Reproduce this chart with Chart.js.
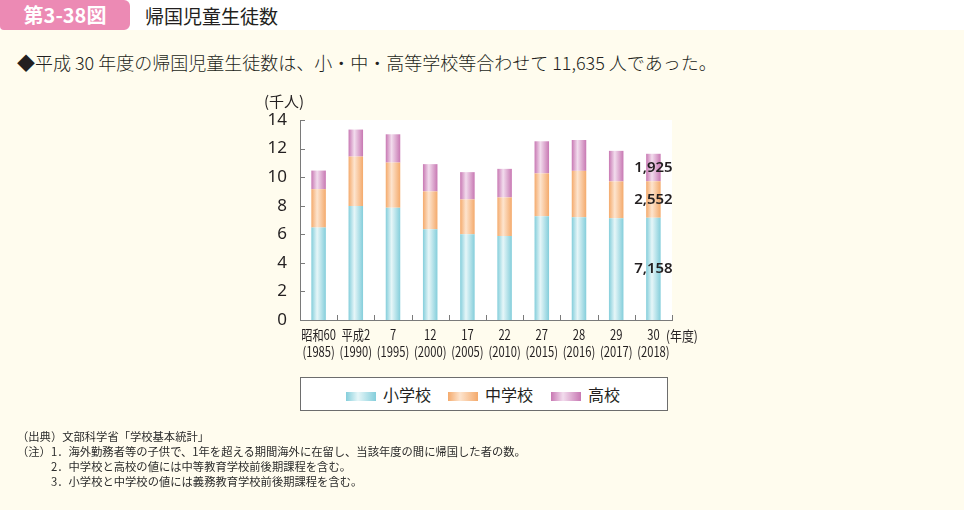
<!DOCTYPE html>
<html lang="ja">
<head>
<meta charset="utf-8">
<script src="https://cdn.jsdelivr.net/npm/chart.js@4.4.0/dist/chart.umd.min.js"></script>
<style>
body{margin:0;width:964px;height:510px;background:#fffcee;position:relative;overflow:hidden;font-family:"Noto Sans CJK JP",sans-serif;color:#231f20}
#head{position:absolute;left:0;top:0;width:964px;height:30px;background:#fff}
#badge{position:absolute;left:0;top:0;width:130px;height:30px;background:#ec8ab4;border-radius:0 6px 6px 4px;color:#fff;font-weight:bold;font-size:20px;line-height:30px;text-align:center}
#title{position:absolute;left:145px;top:0;line-height:31px;font-size:19px;font-weight:400}
#lead{position:absolute;left:17px;top:49px;font-size:18px;line-height:26px;white-space:nowrap;font-weight:300}
.t{position:absolute;white-space:nowrap}
#chart{position:absolute;left:0;top:0}
#legend{position:absolute;left:300px;top:377px;width:366px;height:32px;border:1px solid #6d6d6d;background:#fff}
.sw{position:absolute;top:14px;width:30px;height:9px}
.lt{position:absolute;top:4px;font-size:16px;line-height:24px}
.note{position:absolute;font-size:11.3px;line-height:15px;white-space:nowrap;color:#2b2b2b}
</style>
</head>
<body>
<div id="head"></div>
<div id="badge">第3-38図</div>
<div id="title">帰国児童生徒数</div>
<div id="lead">◆平成 30 年度の帰国児童生徒数は、小・中・高等学校等合わせて 11,635 人であった。</div>
<canvas id="chart" width="964" height="510"></canvas>
<div class="t" style="left:264px;top:90px;font-size:15px;line-height:22px">(千人)</div>
<div class="t" style="left:666px;top:325px;font-size:14px;line-height:20px;transform:scaleX(0.85);transform-origin:left">(年度)</div>
<div id="legend"></div>
<div class="note" style="left:17px;top:429px">（出典）文部科学省「学校基本統計」</div>
<div class="note" style="left:17px;top:444px">（注）1．海外勤務者等の子供で、1年を超える期間海外に在留し、当該年度の間に帰国した者の数。</div>
<div class="note" style="left:51px;top:459px">2．中学校と高校の値には中等教育学校前後期課程を含む。</div>
<div class="note" style="left:51px;top:474px">3．小学校と中学校の値には義務教育学校前後期課程を含む。</div>
<script>
const eraLabels=["昭和60","平成2","7","12","17","22","27","28","29","30"];
const yearLabels=["(1985)","(1990)","(1995)","(2000)","(2005)","(2010)","(2015)","(2016)","(2017)","(2018)"];
const seriesNames=["小学校","中学校","高校"];
// thousands of students
const elementary=[6.47,7.98,7.86,6.35,6.00,5.88,7.26,7.19,7.12,7.158];
const middle=[2.69,3.46,3.16,2.65,2.44,2.70,3.00,3.25,2.58,2.552];
const high=[1.30,1.89,1.98,1.91,1.91,2.00,2.25,2.16,2.14,1.925];
const yTicks=[0,2,4,6,8,10,12,14];

const edgeColors=["#84cedb","#f4aa6c","#c878b3"];
const midColors=["#e6f6f8","#fde4ce","#f2dced"];
const barPct=0.39;

function grad(i){
return c=>{
const sc=c.chart.scales.x;
if(!sc||c.type!=="data") return edgeColors[i];
const w=sc.width/eraLabels.length*barPct;
const cx=sc.getPixelForValue(c.dataIndex);
if(!isFinite(cx)||!isFinite(w)||w<=0) return edgeColors[i];
const g=c.chart.ctx.createLinearGradient(cx-w/2,0,cx+w/2,0);
g.addColorStop(0,edgeColors[i]);
g.addColorStop(0.4,midColors[i]);
g.addColorStop(1,edgeColors[i]);
return g;
};
}

const plotBg={
id:"plotBg",
beforeDraw(ch){
const a=ch.chartArea,c=ch.ctx;
c.save();c.fillStyle="#fff";c.fillRect(a.left,a.top,a.right-a.left,a.bottom-a.top);c.restore();
}
};

const extras={
id:"extras",
afterDraw(ch){
const c=ch.ctx,a=ch.chartArea,xs=ch.scales.x,ys=ch.scales.y;
c.save();
// inward ticks
c.strokeStyle="#7a7a7a";c.lineWidth=1;
c.beginPath();
yTicks.forEach(v=>{const y=Math.round(ys.getPixelForValue(v))+0.5;c.moveTo(a.left,y);c.lineTo(a.left+5,y);});
const step=(a.right-a.left)/eraLabels.length;
for(let i=1;i<=eraLabels.length;i++){const x=Math.round(xs.getPixelForValue(i)-step/2)+0.5;c.moveTo(x,a.bottom);c.lineTo(x,a.bottom-5);}
c.stroke();
// x labels, condensed
c.fillStyle="#231f20";c.textAlign="center";c.textBaseline="middle";
c.font='14px "Noto Sans CJK JP"';
eraLabels.forEach((t,i)=>{
const x=xs.getPixelForValue(i);
c.save();c.translate(x,335);c.scale(0.8,1);c.fillText(t,0,0);c.restore();
c.save();c.translate(x,352);c.scale(0.8,1);c.fillText(yearLabels[i],0,0);c.restore();
});
// values for last year
c.font='600 15px "Noto Sans"';
const last=eraLabels.length-1;
ch.data.datasets.forEach((d,di)=>{
const el=ch.getDatasetMeta(di).data[last];
const txt=Math.round(d.data[last]*1000).toLocaleString("en-US");
c.fillText(txt,el.x,(el.y+el.base)/2);
});
c.restore();
}
};

new Chart(document.getElementById("chart"),{
type:"bar",
data:{
labels:eraLabels,
datasets:[
{label:seriesNames[0],data:elementary,backgroundColor:grad(0)},
{label:seriesNames[1],data:middle,backgroundColor:grad(1)},
{label:seriesNames[2],data:high,backgroundColor:grad(2)}
]
},
options:{
responsive:false,animation:false,
layout:{padding:{left:250,right:292,top:120,bottom:150}},
datasets:{bar:{barPercentage:barPct,categoryPercentage:1,borderWidth:0}},
plugins:{legend:{display:false},tooltip:{enabled:false}},
scales:{
x:{stacked:true,grid:{display:false},border:{color:"#7a7a7a"},ticks:{display:false},
afterFit(s){s.height=40;}},
y:{stacked:true,min:0,max:14,grid:{display:false},border:{color:"#7a7a7a"},
ticks:{stepSize:2,padding:5,color:"#231f20",font:{family:"Noto Sans",size:17}},
afterFit(s){s.width=50;}}
}
},
plugins:[plotBg,extras]
});

// legend
const lg=document.getElementById("legend");
const swLeft=[45,147,250];
seriesNames.forEach((n,i)=>{
const s=document.createElement("div");
s.className="sw";s.style.left=swLeft[i]+"px";
s.style.background=`linear-gradient(to right,${edgeColors[i]},${midColors[i]} 40%,${edgeColors[i]})`;
lg.appendChild(s);
const t=document.createElement("div");
t.className="lt";t.style.left=(swLeft[i]+37)+"px";t.textContent=n;
lg.appendChild(t);
});
</script>
</body>
</html>
